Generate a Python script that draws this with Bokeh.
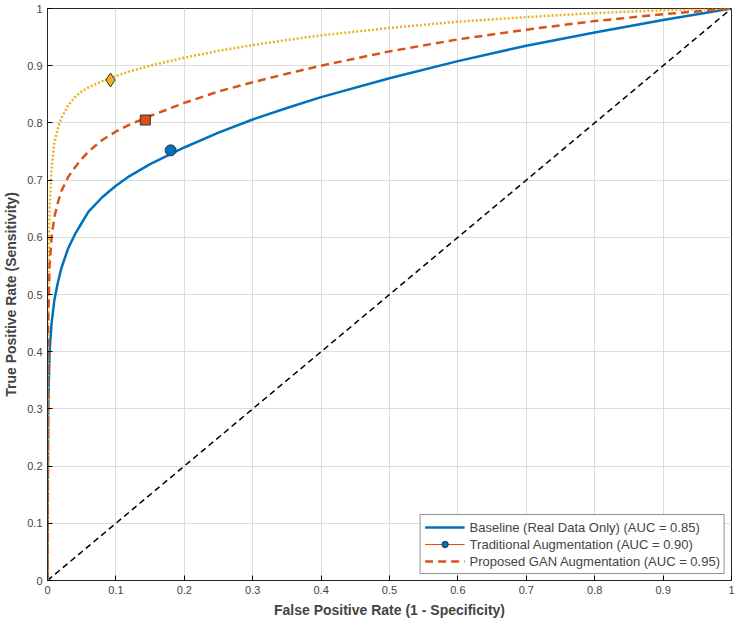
from bokeh.plotting import figure
from bokeh.models import Legend, LegendItem, FixedTicker, CustomJSTickFormatter, Range1d
from bokeh.embed import file_html
from bokeh.resources import INLINE

fpr_base = [0,0.001,0.003,0.006,0.01,0.015,0.02,0.03,0.04,0.05,0.06,0.08,0.1,0.12,0.15,0.2,0.25,0.3,0.35,0.4,0.5,0.6,0.7,0.8,0.9,1]
tpr_base = [0,0.3,0.4,0.45,0.49,0.52,0.545,0.58,0.605,0.625,0.645,0.67,0.69,0.707,0.728,0.757,0.783,0.806,0.826,0.845,0.878,0.908,0.935,0.958,0.98,1]
fpr_gan = [0,0.001,0.003,0.006,0.01,0.015,0.02,0.03,0.04,0.05,0.06,0.08,0.1,0.12,0.15,0.2,0.25,0.3,0.35,0.4,0.5,0.6,0.7,0.8,0.9,1]
tpr_gan = [0,0.45,0.55,0.6,0.635,0.66,0.68,0.705,0.722,0.737,0.75,0.77,0.785,0.797,0.812,0.835,0.855,0.871,0.886,0.9,0.925,0.946,0.963,0.978,0.99,1]
fpr_trad = [0,0.001,0.003,0.006,0.01,0.015,0.02,0.03,0.04,0.05,0.06,0.08,0.1,0.12,0.15,0.2,0.25,0.3,0.35,0.4,0.5,0.6,0.7,0.8,0.9,1]
tpr_trad = [0,0.5,0.65,0.72,0.765,0.79,0.808,0.83,0.845,0.855,0.862,0.873,0.882,0.89,0.9,0.914,0.926,0.936,0.945,0.953,0.966,0.977,0.985,0.992,0.997,1]
op_base = (0.18, 0.752)
op_gan = (0.143, 0.805)
op_trad = (0.092, 0.875)
ticks = [i/10 for i in range(11)]

BLUE = "#0072BD"; ORANGE = "#D95319"; YELLOW = "#EDB120"

p = figure(width=735, height=625, output_backend="svg", toolbar_location=None,
           x_range=Range1d(0, 1), y_range=Range1d(0, 1),
           min_border_left=45, min_border_bottom=45, min_border_top=8, min_border_right=4)
p.outline_line_color = "#262626"
fmt = CustomJSTickFormatter(code="return (Math.round(tick*10)/10).toString();")
for ax in (p.xaxis[0], p.yaxis[0]):
    ax.ticker = FixedTicker(ticks=ticks)
    ax.formatter = fmt
    ax.major_tick_in = 5; ax.major_tick_out = 0; ax.minor_tick_line_color = None
    ax.major_label_text_font = "Liberation Sans"; ax.major_label_text_font_size = "11px"
    ax.axis_label_text_font = "Liberation Sans"; ax.axis_label_text_font_style = "bold"
    ax.axis_label_text_font_size = "14px"; ax.axis_line_color = "#262626"
p.xaxis.axis_label = "False Positive Rate (1 - Specificity)"
p.yaxis.axis_label = "True Positive Rate (Sensitivity)"
p.xgrid.ticker = FixedTicker(ticks=ticks); p.ygrid.ticker = FixedTicker(ticks=ticks)
p.grid.grid_line_color = "#dcdcdc"

p.line([0, 1], [0, 1], color="black", line_width=1.5, line_dash="6 4")
b = p.line(fpr_base, tpr_base, color=BLUE, line_width=2.5)
p.line(fpr_trad, tpr_trad, color=YELLOW, line_width=2.5, line_dash="2 2")
g = p.line(fpr_gan, tpr_gan, color=ORANGE, line_width=2.5, line_dash="8 5")
p.scatter([op_trad[0]], [op_trad[1]], marker="diamond", size=14, fill_color=YELLOW, line_color="#333333")
p.scatter([op_gan[0]], [op_gan[1]], marker="square", size=10, fill_color=ORANGE, line_color="#333333")
c = p.scatter([op_base[0]], [op_base[1]], marker="circle", size=11, fill_color=BLUE, line_color="#333333")
leg_line = p.line([-1, -1], [-1, -1], color=ORANGE, line_width=1)

legend = Legend(items=[
    LegendItem(label="Baseline (Real Data Only) (AUC = 0.85)", renderers=[b]),
    LegendItem(label="Traditional Augmentation (AUC = 0.90)", renderers=[leg_line, c]),
    LegendItem(label="Proposed GAN Augmentation (AUC = 0.95)", renderers=[g]),
], location="bottom_right")
legend.label_text_font = "Liberation Sans"; legend.label_text_font_size = "13px"
legend.border_line_color = "#262626"; legend.spacing = 1; legend.padding = 4
legend.label_height = 16; legend.glyph_height = 16; legend.glyph_width = 40; legend.margin = 6
p.add_layout(legend)

open("out.html", "w").write(file_html(p, INLINE))
